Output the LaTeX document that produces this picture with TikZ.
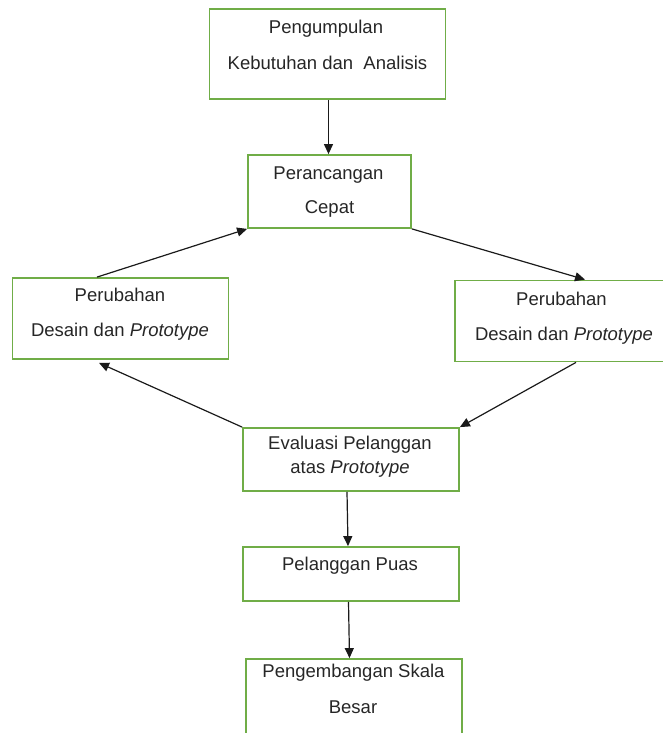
\documentclass[tikz,border=0pt]{standalone}
\usepackage{fontspec}
\setmainfont{Liberation Sans}
\usetikzlibrary{arrows.meta}
\definecolor{boxgreen}{HTML}{70AD47}
\definecolor{arrowcol}{HTML}{1A1A1A}
\begin{document}
\begin{tikzpicture}[x=1pt,y=-1pt,
  box/.style={draw=boxgreen,line width=1.8pt,rectangle,inner sep=0pt},
  txt/.style={anchor=base,inner sep=0pt,font=\fontsize{18.5}{22}\selectfont,text=black!85},
  arr/.style={draw=arrowcol,line width=1.2pt,-{Triangle[length=10pt,width=9pt]}}]
\useasboundingbox (0,0) rectangle (662,733);
% boxes
\node[box,minimum width=236pt,minimum height=90pt] (b1) at (327.5,54) {};
\node[box,minimum width=163pt,minimum height=73pt] (b2) at (329.5,191.5) {};
\node[box,minimum width=216pt,minimum height=81pt] (bl) at (120.5,318.5) {};
\node[box,minimum width=215pt,minimum height=81pt] (br) at (562.5,321) {};
\node[box,minimum width=216pt,minimum height=63pt] (be) at (351,459.5) {};
\node[box,minimum width=216pt,minimum height=54pt] (bp) at (351,574) {};
\node[box,minimum width=216pt,minimum height=101pt] (bg) at (354,709.5) {};
% texts
\node[txt] (t1a) at (326,34) {Pengumpulan};
\node[txt] (t1b) at (327.5,70) {Kebutuhan dan \ Analisis};
\node[txt] (t2a) at (328.5,179) {Perancangan};
\node[txt] (t2b) at (329.5,213) {Cepat};
\node[txt] (tla) at (120,301) {Perubahan};
\node[txt] (tlb) at (120,336) {Desain dan \textit{Prototype}};
\node[txt] (tra) at (561.5,305.5) {Perubahan};
\node[txt] (trb) at (564,340) {Desain dan \textit{Prototype}};
\node[txt] (tea) at (350,449) {Evaluasi Pelanggan};
\node[txt] (teb) at (350,473) {atas \textit{Prototype}};
\node[txt] (tp) at (350,570) {Pelanggan Puas};
\node[txt] (tga) at (353.5,677) {Pengembangan Skala};
\node[txt] (tgb) at (353,713) {Besar};
% connectors
\draw[arr] ([xshift=1pt]b1.south) -- ([xshift=1pt]b1.south |- b2.north);
\draw[arr] ([xshift=-23.5pt]bl.north) -- (b2.south west);
\draw[arr] (b2.south east) -- ([xshift=22.5pt]br.north);
\draw[arr] ([xshift=13.5pt]br.south) -- (be.north east);
\draw[arr] (be.north west) -- ([xshift=-21.5pt,yshift=-3pt]bl.south);
\draw[arr] ([xshift=-4pt]be.south) -- ([xshift=-3pt]bp.north);
\draw[arr] ([xshift=-2.5pt]bp.south) -- ([xshift=-4.5pt]bg.north);
\end{tikzpicture}
\end{document}
